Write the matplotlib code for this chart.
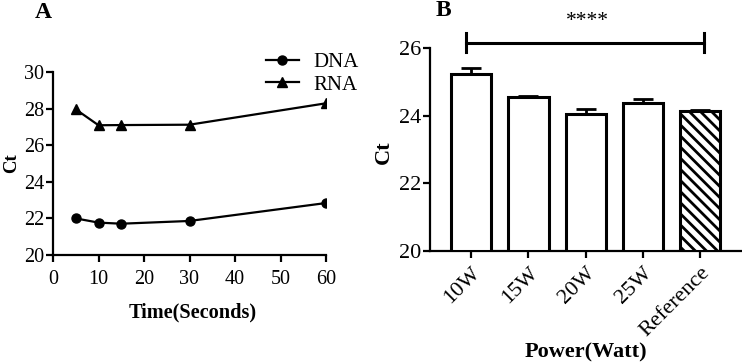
import matplotlib
matplotlib.use("Agg")
import matplotlib.pyplot as plt
import numpy as np

plt.rcParams['font.family'] = ['Liberation Serif', 'DejaVu Serif']
plt.rcParams['hatch.linewidth'] = 2.0

# Panel A data
time_s = [5, 10, 15, 30, 60]
dna_ct = [22.0, 21.77, 21.71, 21.86, 22.84]
rna_ct = [27.96, 27.09, 27.1, 27.12, 28.29]

# Panel B data
power_labels = ["10W", "15W", "20W", "25W", "Reference"]
power_ct = [25.22, 24.55, 24.06, 24.36, 24.13]
power_err = [0.19, 0.03, 0.15, 0.12, 0.03]

W, H = 742, 364
fig = plt.figure(figsize=(W / 100, H / 100), dpi=100)

def box(l, r, t, b):
    return [l / W, 1 - b / H, (r - l) / W, (b - t) / H]

def ftext(x, y, s, **kw):
    fig.text(x / W, 1 - y / H, s, ha='center', va='center', **kw)

lw = 1.6

# ---------- Panel A ----------
axA = fig.add_axes(box(53, 326, 72, 255))
axA.plot(time_s, dna_ct, color='black', lw=lw, marker='o', ms=6.5, label='DNA')
axA.plot(time_s, rna_ct, color='black', lw=lw, marker='^', ms=6.5, label='RNA')
axA.set_xlim(0, 60)
axA.set_ylim(20, 30)
axA.set_xticks([0, 10, 20, 30, 40, 50, 60])
axA.set_yticks([20, 22, 24, 26, 28, 30])
for s in ['top', 'right']:
    axA.spines[s].set_visible(False)
for s in ['left', 'bottom']:
    axA.spines[s].set_linewidth(lw)
axA.tick_params(width=lw, length=5, labelsize=14.5)
axA.tick_params(axis='y', pad=1.5)
axA.tick_params(axis='x', pad=6)
axA.legend(loc='upper right', bbox_to_anchor=(1.19, 1.21), frameon=False,
           fontsize=15, handlelength=1.6, handletextpad=0.7, labelspacing=0.15)
ftext(12, 163, 'Ct', fontsize=13.5, fontweight='bold', rotation=90)
ftext(193, 312, 'Time(Seconds)', fontsize=14.6, fontweight='bold')
ftext(43, 13, 'A', fontsize=17, fontweight='bold')

# ---------- Panel B ----------
axB = fig.add_axes(box(430, 742, 48, 251))
x = np.arange(len(power_labels))
hatches = ['', '', '', '', '\\\\\\']
bars = axB.bar(x, [v - 20 for v in power_ct], bottom=20, width=0.7,
               color='white', edgecolor='black', linewidth=2.2, zorder=3)
for b, h in zip(bars, hatches):
    b.set_hatch(h)
axB.errorbar(x, power_ct, yerr=[[0] * len(power_err), power_err], fmt='none',
             ecolor='black', elinewidth=2, capsize=7, capthick=2, zorder=2)
axB.set_xlim(-0.72, 4.73)
axB.set_ylim(20, 26)
axB.set_yticks([20, 22, 24, 26])
axB.set_xticks(x)
axB.set_xticklabels(power_labels, rotation=45, ha='right', rotation_mode='anchor')
for s in ['top', 'right']:
    axB.spines[s].set_visible(False)
for s in ['left', 'bottom']:
    axB.spines[s].set_linewidth(lw)
axB.tick_params(width=lw, length=5, labelsize=16)
axB.tick_params(axis='y', pad=1.5)
axB.tick_params(axis='x', pad=4)
# significance bracket
ybr = 26.16
axB.plot([-0.09, 4.07], [ybr, ybr], color='black', lw=2.2, clip_on=False)
axB.plot([-0.09, -0.09], [ybr - 0.27, ybr + 0.27], color='black', lw=2.2, clip_on=False)
axB.plot([4.07, 4.07], [ybr - 0.27, ybr + 0.27], color='black', lw=2.2, clip_on=False)
ftext(587, 21, '****', fontsize=15.5)
ftext(384, 152, 'Ct', fontsize=16, fontweight='bold', rotation=90)
ftext(586, 352, 'Power(Watt)', fontsize=16, fontweight='bold')
ftext(443, 11, 'B', fontsize=17, fontweight='bold')

fig.savefig('out.png', dpi=100)
